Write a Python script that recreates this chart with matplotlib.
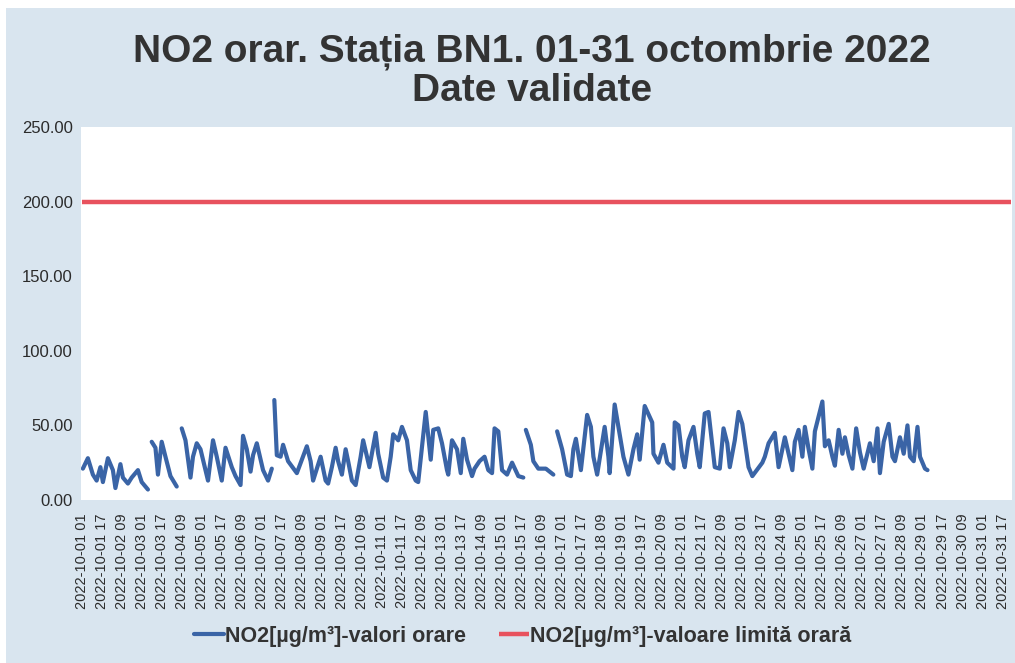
import numpy as np
import matplotlib
matplotlib.use("Agg")
import matplotlib.pyplot as plt
from matplotlib.patches import Rectangle
import datetime as dt

# ---------------- data ----------------
title = "NO2 orar. Stația BN1. 01-31 octombrie 2022\nDate validate"
series_label = "NO2[µg/m³]-valori orare"
limit_label = "NO2[µg/m³]-valoare limită orară"

n_hours = 744                      # 2022-10-01 01 ... 2022-11-01 00
start_time = dt.datetime(2022, 10, 1, 1)
label_step = 16                    # one tick label every 16 hours

# hour index (0 = 2022-10-01 01) and NO2 value; nan = missing data
no2_hours = [1, 5, 9, 12, 15, 17, 21, 25, 27, 31, 33, 37, 40, 45, 48, 53, 54,
             56, 59, 61, 64, 67, 71, 76, 78,
             80, 83, 87, 89, 92, 95, 99, 101, 105, 108, 112, 115, 120, 123, 127, 129,
             132, 135, 137, 140, 145, 149, 152, 153,
             154, 156, 159, 161, 165, 172, 176, 180, 183, 185, 191, 195, 197, 200,
             203, 205, 208, 211, 213, 216, 219, 223, 225, 230, 235, 237, 241, 244,
             247, 249, 253, 256, 260, 263, 267, 269, 275, 279, 281, 285, 288, 292,
             293, 296, 300, 303, 305, 308, 312, 314, 318, 322, 325, 328, 330, 333,
             336, 340, 344, 349, 353, 354,
             355, 359, 361, 365, 371, 377, 378,
             380, 384, 388, 391, 393, 395, 399, 404, 407, 409, 412, 418, 421, 422,
             426, 428, 433, 437, 441, 444, 446, 450, 456, 457, 461, 465, 468, 473,
             474, 477, 480, 482, 485, 489, 492, 494, 498, 501, 506, 510, 513, 516,
             518, 522, 525, 528, 533, 536, 544, 546, 549, 554, 557, 562, 568, 570,
             573, 576, 578, 581, 584, 586, 592, 594, 597, 600, 602, 605, 608, 610,
             613, 616, 619, 622, 625, 630, 633, 636, 638, 641, 645, 648, 650, 654,
             657, 660, 662, 665, 668, 670, 674, 676]
nan = float("nan")
no2_values = [21, 28, 17, 13, 22, 12, 28, 20, 8, 24, 15, 11, 15, 20, 12, 7, nan,
              39, 35, 17, 39, 29, 16, 9, nan,
              48, 40, 15, 29, 38, 34, 20, 13, 40, 29, 13, 35, 22, 16, 10, 43,
              34, 19, 30, 38, 20, 13, 21, nan,
              67, 30, 29, 37, 26, 18, 27, 36, 26, 13, 29, 13, 11, 22,
              35, 26, 17, 34, 26, 13, 10, 29, 40, 22, 45, 31, 15, 13,
              29, 44, 40, 49, 40, 20, 13, 12, 59, 27, 47, 48, 38, 20,
              17, 40, 34, 18, 41, 27, 16, 21, 26, 29, 20, 18, 48, 46,
              20, 17, 25, 16, 15, nan,
              47, 37, 26, 21, 21, 17, nan,
              46, 34, 17, 16, 34, 41, 20, 57, 49, 29, 17, 49, 29, 18,
              64, 54, 29, 17, 34, 44, 27, 63, 52, 31, 25, 37, 25, 21,
              52, 50, 29, 22, 40, 49, 31, 22, 58, 59, 22, 21, 48, 38,
              22, 40, 59, 51, 22, 16, 25, 29, 38, 45, 22, 42, 20, 39,
              47, 29, 49, 34, 21, 46, 66, 36, 40, 29, 23, 47, 31, 42,
              30, 21, 48, 32, 21, 38, 26, 48, 18, 39, 51, 29, 26, 42,
              31, 50, 29, 26, 49, 29, 21, 20]

limit_value = 200.0
y_ticks = [0, 50, 100, 150, 200, 250]

# ---------------- style ----------------
bg = "#d9e5ef"
blue = "#3a64a6"
red = "#e8525e"
txt = "#2b2b2b"

plt.rcParams["font.family"] = ["Liberation Sans", "DejaVu Sans"]

fig = plt.figure(figsize=(10.15, 6.63), dpi=100)
fig.patch.set_facecolor("white")
fig.add_artist(Rectangle((0.006, 0.0), 0.994, 0.988, transform=fig.transFigure,
                         facecolor=bg, edgecolor="none", zorder=-10))

ax = fig.add_axes([0.0798, 0.2459, 0.9172, 0.5625])
ax.set_facecolor("white")
for s in ax.spines.values():
    s.set_visible(False)

all_hours = np.arange(n_hours)
ax.plot(all_hours, [limit_value] * n_hours, color=red, lw=3.2,
        solid_capstyle="butt", label=limit_label, zorder=2)
ax.plot(no2_hours, no2_values, color=blue, lw=3.0, solid_joinstyle="round",
        solid_capstyle="round", label=series_label, zorder=3)

ax.set_xlim(-0.5, n_hours - 0.5)
ax.set_ylim(0, 250)
ax.set_yticks(y_ticks)
ax.set_yticklabels([f"{v:.2f}" for v in y_ticks], fontsize=12, color=txt)

tick_pos = list(range(0, n_hours, label_step))
tick_lab = [(start_time + dt.timedelta(hours=h)).strftime("%Y-%m-%d %H") for h in tick_pos]
ax.set_xticks(tick_pos)
ax.set_xticklabels(tick_lab, rotation=90, fontsize=10.5, color=txt)
ax.tick_params(axis="both", length=0)
ax.tick_params(axis="x", pad=10)
ax.tick_params(axis="y", pad=6)

fig.text(0.524, 0.893, title, ha="center", va="center", fontsize=28,
         fontweight="bold", color="#333333", linespacing=1.1)

h_all, l_all = ax.get_legend_handles_labels()
order = [1, 0]
leg = fig.legend([h_all[i] for i in order], [l_all[i] for i in order],
                 loc="center", bbox_to_anchor=(0.515, 0.040), ncol=2, frameon=False,
                 handlelength=1.4, handletextpad=0.05, columnspacing=1.5,
                 prop={"weight": "bold", "size": 15.5})
for t in leg.get_texts():
    t.set_color("#333333")

fig.savefig("out.png", dpi=100, facecolor=fig.get_facecolor())
